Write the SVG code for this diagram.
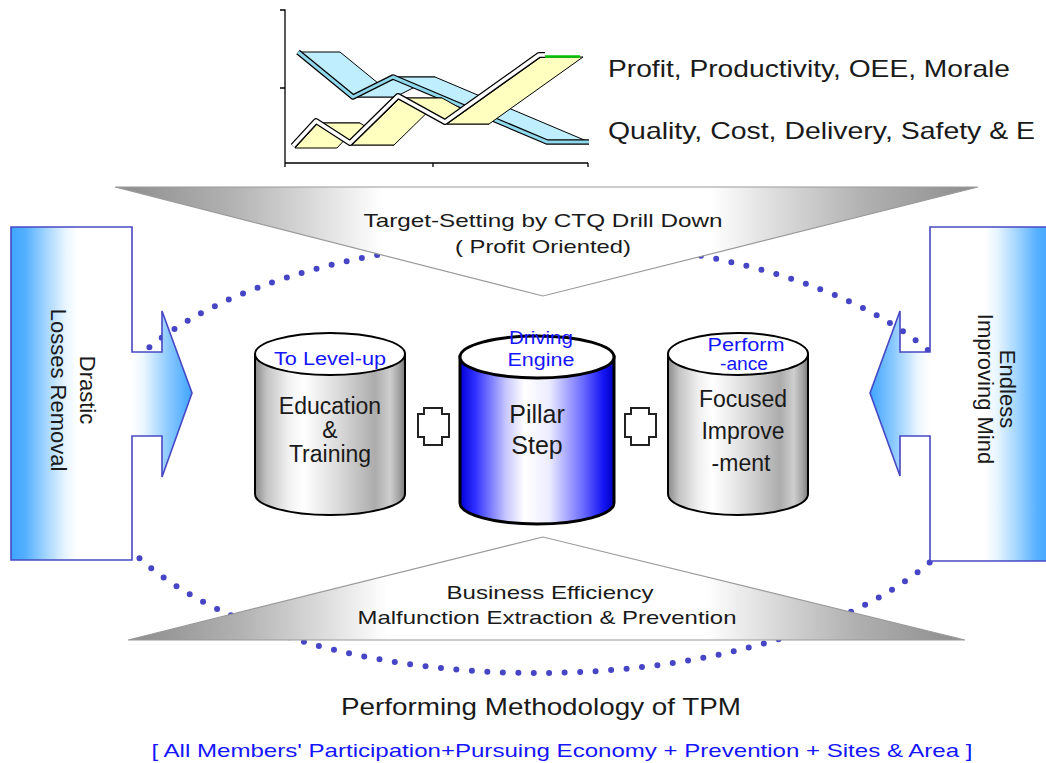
<svg xmlns="http://www.w3.org/2000/svg" width="1046" height="763" viewBox="0 0 1046 763">
<defs>
<style>
text{font-family:"Liberation Sans",Arial,sans-serif;}
.dark{fill:#1a1a1a;}
.blue{fill:#1515ff;}
.face{stroke:#000;stroke-width:1;stroke-linejoin:round;}
.side{fill:none;stroke:#4848c4;stroke-width:1.6;}
.cylb{stroke:#000;stroke-width:2;}
.plus{fill:#fff;stroke:#222;stroke-width:2;}
</style>
<linearGradient id="gTri" x1="0" y1="0" x2="1" y2="0">
<stop offset="0" stop-color="#8c8c8c"/><stop offset="0.13" stop-color="#b0b0b0"/><stop offset="0.22" stop-color="#d6d6d6"/><stop offset="0.29" stop-color="#f6f6f6"/><stop offset="0.31" stop-color="#fff"/><stop offset="0.69" stop-color="#fff"/><stop offset="0.71" stop-color="#f6f6f6"/><stop offset="0.78" stop-color="#d6d6d6"/><stop offset="0.87" stop-color="#b0b0b0"/><stop offset="1" stop-color="#8c8c8c"/>
</linearGradient>
<linearGradient id="gLR" gradientUnits="userSpaceOnUse" x1="11" y1="0" x2="132" y2="0">
<stop offset="0" stop-color="#3ea4ff"/><stop offset="0.12" stop-color="#55b0ff"/><stop offset="0.3" stop-color="#a8d8ff"/><stop offset="0.45" stop-color="#e8f5ff"/><stop offset="0.55" stop-color="#fff"/><stop offset="1" stop-color="#fff"/>
</linearGradient>
<linearGradient id="gLA" gradientUnits="userSpaceOnUse" x1="132" y1="0" x2="192" y2="0">
<stop offset="0" stop-color="#fff"/><stop offset="0.2" stop-color="#eaf6ff"/><stop offset="0.6" stop-color="#8ccaff"/><stop offset="1" stop-color="#3ea4ff"/>
</linearGradient>
<linearGradient id="gRR" gradientUnits="userSpaceOnUse" x1="1052" y1="0" x2="930" y2="0">
<stop offset="0" stop-color="#3ea4ff"/><stop offset="0.12" stop-color="#55b0ff"/><stop offset="0.3" stop-color="#a8d8ff"/><stop offset="0.45" stop-color="#e8f5ff"/><stop offset="0.55" stop-color="#fff"/><stop offset="1" stop-color="#fff"/>
</linearGradient>
<linearGradient id="gRA" gradientUnits="userSpaceOnUse" x1="930" y1="0" x2="870" y2="0">
<stop offset="0" stop-color="#fff"/><stop offset="0.2" stop-color="#eaf6ff"/><stop offset="0.6" stop-color="#8ccaff"/><stop offset="1" stop-color="#3ea4ff"/>
</linearGradient>
<linearGradient id="gGray" x1="0" y1="0" x2="1" y2="0">
<stop offset="0" stop-color="#8a8a8a"/><stop offset="0.08" stop-color="#c4c4c4"/><stop offset="0.22" stop-color="#f0f0f0"/><stop offset="0.32" stop-color="#ffffff"/><stop offset="0.55" stop-color="#dcdcdc"/><stop offset="0.8" stop-color="#acacac"/><stop offset="0.9" stop-color="#cecece"/><stop offset="0.96" stop-color="#a4a4a4"/><stop offset="1" stop-color="#7a7a7a"/>
</linearGradient>
<linearGradient id="gBlue" x1="0" y1="0" x2="1" y2="0">
<stop offset="0" stop-color="#0000d8"/><stop offset="0.1" stop-color="#3030ff"/><stop offset="0.3" stop-color="#c8c8ff"/><stop offset="0.42" stop-color="#ffffff"/><stop offset="0.58" stop-color="#ececff"/><stop offset="0.8" stop-color="#6a6aff"/><stop offset="0.93" stop-color="#1515f5"/><stop offset="1" stop-color="#0000c0"/>
</linearGradient>
</defs>
<rect width="1046" height="763" fill="#fff"/>

<g id="chart">
<path d="M280,10 H285 V163 H588 M280,88 H285 M433,163 V167 M588,163 V167 M285,163 V167" fill="none" stroke="#000" stroke-width="1.3"/>
<g fill="#bfefff" class="face">
<polygon points="298,52 353,97 395,97 340,52"/>
<polygon points="353,97 393,77 435,77 395,97"/>
<polygon points="393,77 547,142 589,142 435,77"/>
</g>
<polyline points="298,52 353,97 393,77 547,142 589,142" fill="none" stroke="#000" stroke-width="5.5" stroke-linejoin="round"/>
<polyline points="298,52 353,97 393,77 547,142 589,142" fill="none" stroke="#8fd8ec" stroke-width="3" stroke-linejoin="round"/>
<g fill="#ffffc0" class="face">
<polygon points="295,148 318,123 360,123 337,148"/>
<polygon points="318,123 352,145 394,145 360,123"/>
<polygon points="352,145 400,98 442,98 394,145"/>
<polygon points="400,98 447,124 489,124 442,98"/>
<polygon points="447,124 541,57 583,57 489,124"/>
</g>
<polyline points="293,146 316,121 350,143 398,96 445,122 539,55 545,55" fill="none" stroke="#000" stroke-width="6" stroke-linejoin="round"/>
<polyline points="293,146 316,121 350,143 398,96 445,122 539,55 545,55" fill="none" stroke="#fff" stroke-width="3.5" stroke-linejoin="round"/>
<line x1="545" y1="56.5" x2="580" y2="56.5" stroke="#00c000" stroke-width="2.5"/>
<text x="608" y="77" font-size="24" class="dark" textLength="402" lengthAdjust="spacingAndGlyphs">Profit, Productivity, OEE, Morale</text>
<text x="608" y="139" font-size="24" class="dark" textLength="427" lengthAdjust="spacingAndGlyphs">Quality, Cost, Delivery, Safety &amp; E</text>
</g>

<g id="connectors">
<ellipse cx="537" cy="457" rx="450" ry="216" fill="none" stroke="#4545c5" stroke-width="6" stroke-linecap="round" stroke-dasharray="0 15.5"/>
</g>

<g id="top-triangle">
<polygon points="115,187 978,187 543,296" fill="url(#gTri)" stroke="#9a9a9a" stroke-width="1.2"/>
<text x="543" y="227" font-size="19" class="dark" text-anchor="middle" textLength="359" lengthAdjust="spacingAndGlyphs">Target-Setting by CTQ Drill Down</text>
<text x="543" y="253" font-size="19" class="dark" text-anchor="middle" textLength="176" lengthAdjust="spacingAndGlyphs">( Profit Oriented)</text>
</g>

<g id="bottom-triangle">
<polygon points="543,537 128,640 965,640" fill="url(#gTri)" stroke="#9a9a9a" stroke-width="1.2"/>
<text x="550" y="599" font-size="19" class="dark" text-anchor="middle" textLength="207" lengthAdjust="spacingAndGlyphs">Business Efficiency</text>
<text x="547" y="624" font-size="19" class="dark" text-anchor="middle" textLength="379" lengthAdjust="spacingAndGlyphs">Malfunction Extraction &amp; Prevention</text>
</g>

<g id="left-arrow">
<rect x="11" y="227" width="121" height="333" fill="url(#gLR)"/>
<polygon points="132,352 162,352 162,311 192,393 162,477 162,436 132,436" fill="url(#gLA)"/>
<polygon class="side" points="11,227 132,227 132,352 162,352 162,311 192,393 162,477 162,436 132,436 132,560 11,560"/>
<g transform="translate(72,390) rotate(90)">
<text x="0" y="-8" font-size="22" class="dark" text-anchor="middle">Drastic</text>
<text x="0" y="21" font-size="22" class="dark" text-anchor="middle">Losses Removal</text>
</g>
</g>

<g id="right-arrow">
<rect x="930" y="227" width="122" height="334" fill="url(#gRR)"/>
<polygon points="930,352 900,352 900,311 870,393 900,476 900,436 930,436" fill="url(#gRA)"/>
<polygon class="side" points="1052,227 930,227 930,352 900,352 900,311 870,393 900,476 900,436 930,436 930,561 1052,561"/>
<g transform="translate(994,389) rotate(90)">
<text x="0" y="-6" font-size="22" class="dark" text-anchor="middle">Endless</text>
<text x="0" y="16" font-size="22" class="dark" text-anchor="middle">Improving Mind</text>
</g>
</g>

<g id="cyl-education">
<path class="cylb" d="M255,354 V494 A75,21 0 0 0 405,494 V354 Z" fill="url(#gGray)"/>
<ellipse cx="330" cy="354" rx="75" ry="21" fill="#fff" stroke="#000" stroke-width="2"/>
<text x="330" y="365" font-size="18" class="blue" text-anchor="middle" textLength="112" lengthAdjust="spacingAndGlyphs">To Level-up</text>
<text x="330" y="414" font-size="23" class="dark" text-anchor="middle">Education</text>
<text x="330" y="438" font-size="23" class="dark" text-anchor="middle">&amp;</text>
<text x="330" y="462" font-size="23" class="dark" text-anchor="middle">Training</text>
</g>

<g id="plus-1">
<polygon class="plus" points="424,408 442,408 442,414 449,414 449,437 442,437 442,445 424,445 424,437 418,437 418,414 424,414"/>
</g>

<g id="cyl-pillar">
<path d="M460,357 V503 A77,21 0 0 0 614,503 V357 Z" fill="url(#gBlue)" stroke="#000" stroke-width="3"/>
<ellipse cx="537" cy="357" rx="77" ry="21" fill="#fff" stroke="#000" stroke-width="3"/>
<text x="541" y="344" font-size="18" class="blue" text-anchor="middle" textLength="64" lengthAdjust="spacingAndGlyphs">Driving</text>
<text x="541" y="366" font-size="18" class="blue" text-anchor="middle" textLength="67" lengthAdjust="spacingAndGlyphs">Engine</text>
<text x="537" y="423" font-size="25" class="dark" text-anchor="middle">Pillar</text>
<text x="537" y="454" font-size="25" class="dark" text-anchor="middle">Step</text>
</g>

<g id="plus-2">
<polygon class="plus" points="631,408 649,408 649,414 656,414 656,437 649,437 649,445 631,445 631,437 625,437 625,414 631,414"/>
</g>

<g id="cyl-focused">
<path class="cylb" d="M668,354 V494 A70,21 0 0 0 808,494 V354 Z" fill="url(#gGray)"/>
<ellipse cx="738" cy="354" rx="70" ry="21" fill="#fff" stroke="#000" stroke-width="2"/>
<text x="746" y="351" font-size="18" class="blue" text-anchor="middle" textLength="77" lengthAdjust="spacingAndGlyphs">Perform</text>
<text x="744" y="370" font-size="18" class="blue" text-anchor="middle" textLength="48" lengthAdjust="spacingAndGlyphs">-ance</text>
<text x="743" y="407" font-size="23" class="dark" text-anchor="middle">Focused</text>
<text x="743" y="439" font-size="23" class="dark" text-anchor="middle">Improve</text>
<text x="741" y="471" font-size="23" class="dark" text-anchor="middle">-ment</text>
</g>

<g id="caption">
<text x="541" y="715" font-size="24" class="dark" text-anchor="middle" textLength="400" lengthAdjust="spacingAndGlyphs">Performing Methodology of TPM</text>
<text x="562" y="757" font-size="19" class="blue" text-anchor="middle" textLength="821" lengthAdjust="spacingAndGlyphs">[ All Members' Participation+Pursuing Economy + Prevention + Sites &amp; Area ]</text>
</g>
</svg>
